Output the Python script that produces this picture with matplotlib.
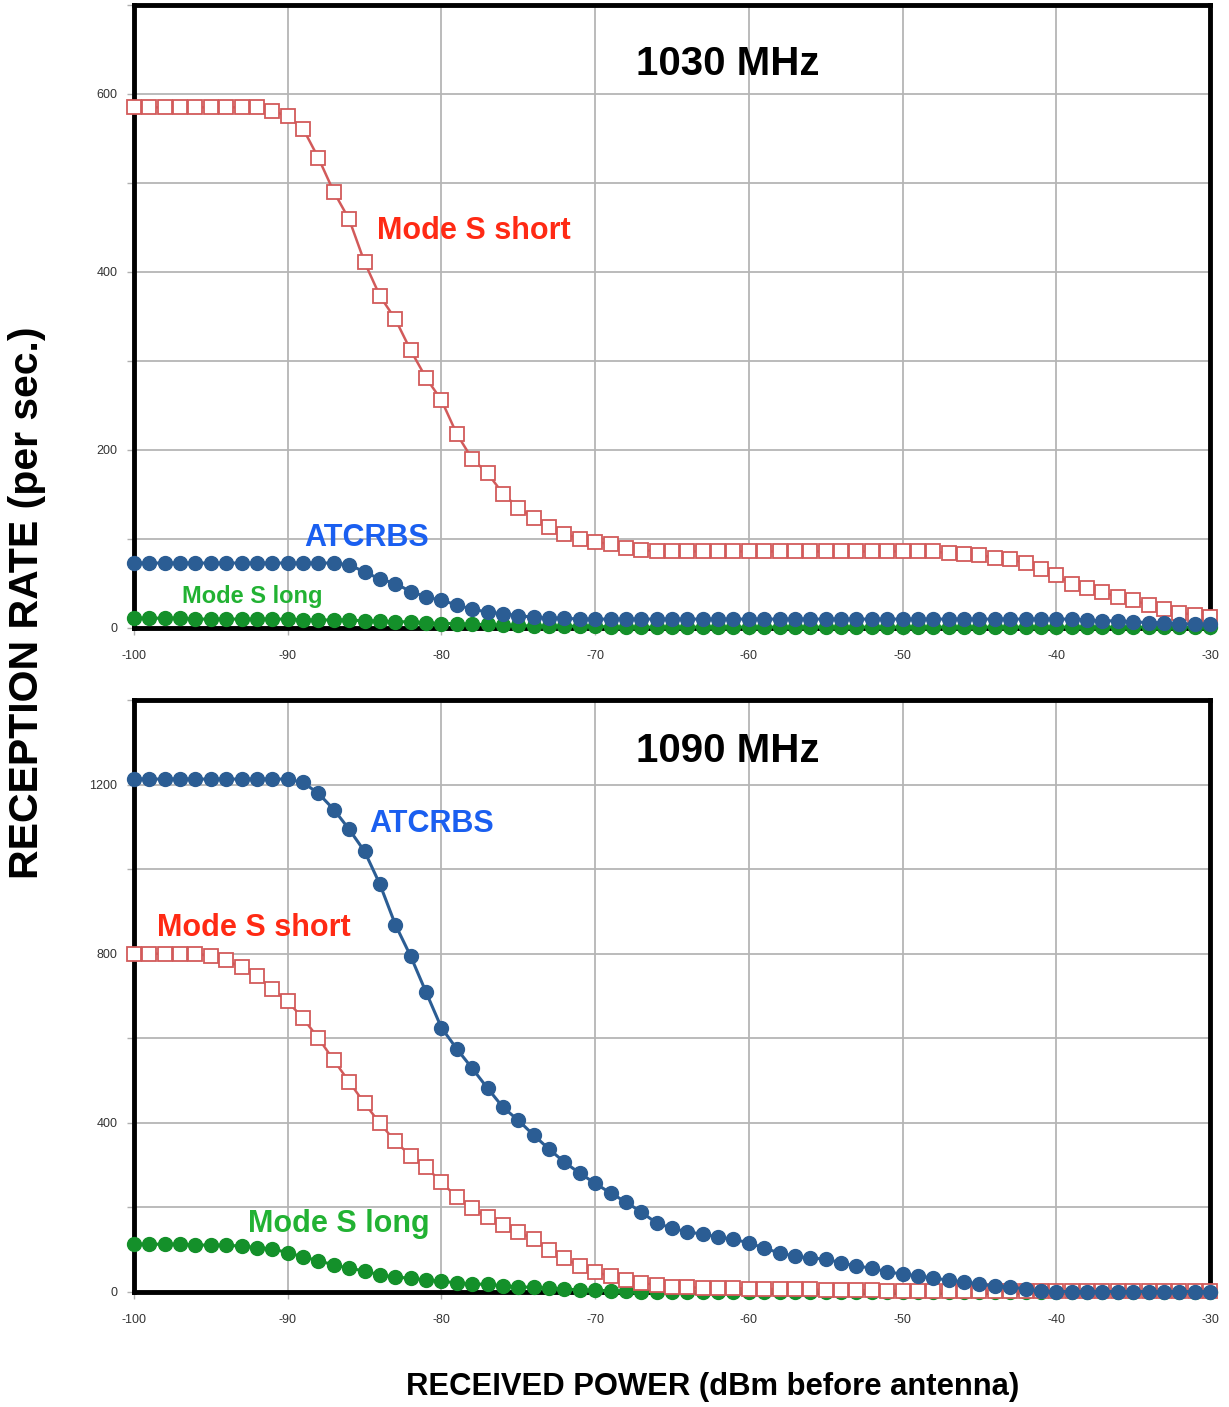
import matplotlib
matplotlib.use("Agg")
import matplotlib.pyplot as plt
from matplotlib.ticker import FixedLocator

plt.rcParams['font.family'] = ['Liberation Sans', 'DejaVu Sans']

power = list(range(-100, -29))  # received power, dBm (1 dB steps)

# ---- 1030 MHz ----
top_mode_s_short = ([585] * 9 +
    [581, 575, 561, 528, 490, 459, 411, 373, 347, 312, 281, 256, 218, 190, 174,
     151, 135, 124, 114, 106, 100, 97, 94, 90, 88, 86] +
    [86] * 18 +
    [84, 83, 82, 79, 77, 73, 66, 59, 50, 45, 40, 35, 31, 26, 21, 17, 15, 12])
top_atcrbs = ([73] * 14 +
    [71, 63, 55, 50, 41, 35, 31, 26, 21, 18, 16, 14, 12, 11, 11] +
    [10] * 33 +
    [9, 8, 8, 7, 6, 6, 5, 4, 4])
top_mode_s_long = ([11, 11, 11, 11, 10, 10, 10, 10, 10] +
    [10, 10, 9, 9, 9, 9] +
    [8, 8, 7, 7, 6, 5] +
    [5, 4, 4, 3, 3] +
    [2, 2, 2, 2, 2] +
    [1] * 40)

# ---- 1090 MHz ----
bot_atcrbs = ([1213] * 11 +
    [1205, 1179, 1141, 1094, 1042, 964, 869, 794, 709, 625, 575, 529, 482, 437,
     406, 371, 338, 307, 281, 257, 234, 213, 189, 163, 151, 142, 137, 130, 125,
     116, 104, 92, 85, 80, 78, 69, 61, 57, 47, 43, 38, 33, 28, 24, 19, 14, 12, 7, 2] +
    [1] * 11)
bot_mode_s_short = ([800] * 5 +
    [794, 784, 768, 747, 716, 687, 647, 600, 548, 497, 446, 399, 356, 322, 295,
     260, 224, 198, 177, 158, 142, 125, 99, 80, 61, 47, 38, 28, 21, 17, 12] +
    [11, 10, 10, 9, 8, 7, 7, 6, 6, 5, 5] +
    [4, 4, 3, 3, 3, 3, 2, 2, 2] +
    [2] * 15)
bot_mode_s_long = ([113, 113, 113, 113, 111, 111, 110, 109, 105, 102, 93, 83, 74,
     64, 56, 50, 40, 36, 32, 29, 25, 22, 19, 18, 15] +
    [12, 11, 9, 7, 5, 4, 3, 2] +
    [1] * 38)

x_ticks = [-100, -90, -80, -70, -60, -50, -40, -30]
top_major = [0, 200, 400, 600]
top_minor = [100, 300, 500, 700]
bot_major = [0, 400, 800, 1200]
bot_minor = [200, 600, 1000, 1400]

RED = '#d25a5a'
BLUE = '#2b5d94'
GREEN = '#14902a'
RED_T = '#ff2a14'
BLUE_T = '#1a5ff0'
GREEN_T = '#22b233'

W, H = 1229, 1407
fig = plt.figure(figsize=(W / 100, H / 100), dpi=100)

ax1 = fig.add_axes([134 / W, 1 - 628 / H, 1076 / W, 623 / H])
ax2 = fig.add_axes([134 / W, 1 - 1292 / H, 1076 / W, 592 / H])


def style(ax, ymax, major, minor):
    ax.set_xlim(-100, -30)
    ax.set_ylim(0, ymax)
    ax.set_xticks(x_ticks)
    ax.set_xticklabels([str(t) for t in x_ticks])
    ax.yaxis.set_major_locator(FixedLocator(major))
    ax.yaxis.set_minor_locator(FixedLocator(minor))
    ax.set_yticklabels([str(t) for t in major])
    ax.grid(True, which='both', axis='y', color='#b5b5b5', lw=1.3, zorder=0)
    ax.grid(True, which='major', axis='x', color='#b5b5b5', lw=1.3, zorder=0)
    ax.set_axisbelow(True)
    ax.tick_params(axis='both', which='both', direction='out', length=5,
                   width=1, color='#b0b0b0', labelsize=9, labelcolor='#333333')
    ax.tick_params(axis='x', which='both', pad=11)
    ax.tick_params(axis='y', which='both', pad=7)
    for s in ax.spines.values():
        s.set_color('black')
        s.set_linewidth(3.5)
        s.set_zorder(2.5)


style(ax1, 700, top_major, top_minor)
style(ax2, 1400, bot_major, bot_minor)


def plot_series(ax, y, kind, z):
    if kind == 'sq':
        ax.plot(power, y, color=RED, lw=1.8, marker='s', markersize=9.5,
                markerfacecolor='white', markeredgecolor=RED, markeredgewidth=1.3,
                clip_on=False, zorder=z)
    elif kind == 'blue':
        ax.plot(power, y, color=BLUE, lw=2.2, marker='o', markersize=10,
                markeredgecolor=BLUE, clip_on=False, zorder=z)
    else:
        ax.plot(power, y, color=GREEN, lw=2.2, marker='o', markersize=10,
                markeredgecolor=GREEN, clip_on=False, zorder=z)


plot_series(ax1, top_mode_s_long, 'green', 3)
plot_series(ax1, top_mode_s_short, 'sq', 4)
plot_series(ax1, top_atcrbs, 'blue', 5)

plot_series(ax2, bot_mode_s_long, 'green', 3)
plot_series(ax2, bot_mode_s_short, 'sq', 4)
plot_series(ax2, bot_atcrbs, 'blue', 5)

# titles and labels
ax1.text(-61.4, 634, '1030 MHz', ha='center', va='center', fontsize=29,
         fontweight='bold', color='black', zorder=6)
ax1.text(-84.2, 446, 'Mode S short', ha='left', va='center', fontsize=22,
         fontweight='bold', color=RED_T, zorder=6)
ax1.text(-88.9, 101, 'ATCRBS', ha='left', va='center', fontsize=22,
         fontweight='bold', color=BLUE_T, zorder=6)
ax1.text(-96.9, 35, 'Mode S long', ha='left', va='center', fontsize=17,
         fontweight='bold', color=GREEN_T, zorder=6)

ax2.text(-61.4, 1279, '1090 MHz', ha='center', va='center', fontsize=29,
         fontweight='bold', color='black', zorder=6)
ax2.text(-84.7, 1106, 'ATCRBS', ha='left', va='center', fontsize=22,
         fontweight='bold', color=BLUE_T, zorder=6)
ax2.text(-98.5, 861, 'Mode S short', ha='left', va='center', fontsize=22,
         fontweight='bold', color=RED_T, zorder=6)
ax2.text(-92.6, 161, 'Mode S long', ha='left', va='center', fontsize=22,
         fontweight='bold', color=GREEN_T, zorder=6)

fig.text(27 / W, 1 - 603 / H, 'RECEPTION RATE (per sec.)', rotation=90,
         ha='center', va='center', fontsize=29.5, fontweight='bold', color='black')
fig.text(713 / W, 1 - 1387 / H, 'RECEIVED POWER (dBm before antenna)',
         ha='center', va='center', fontsize=22.3, fontweight='bold', color='black')

fig.savefig('out.png', dpi=100, facecolor='white')
